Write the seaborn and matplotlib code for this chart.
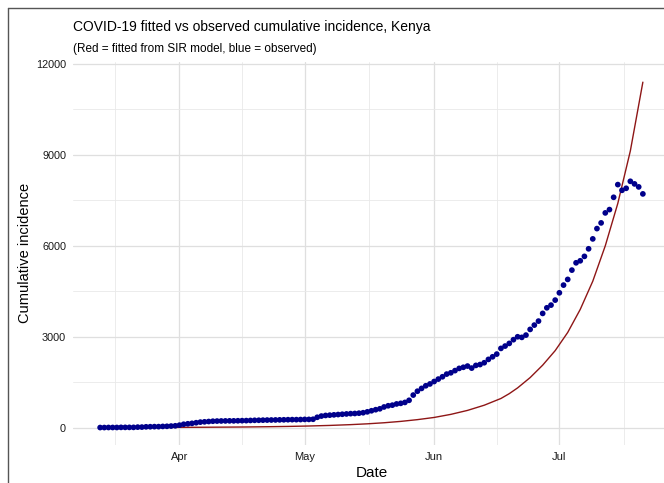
import matplotlib
matplotlib.use("Agg")
import matplotlib.pyplot as plt
import matplotlib.lines as mlines
import pandas as pd
import seaborn as sns

# observed cumulative incidence, one value per day from 13 Mar 2020
start = pd.Timestamp("2020-03-13")
observed = [
    1, 1, 3, 3, 3, 7, 7, 7, 7, 15, 16, 25, 28, 31, 31, 38, 42, 50, 59,
    80, 110, 125, 140, 160, 180, 190, 200, 210, 215, 218, 220, 222, 222, 225,
    228, 230, 235, 240, 242, 245, 248, 250, 252, 255, 257, 260, 262, 262, 265,
    270, 270, 275,
    340, 380, 400, 410, 420, 430, 440, 450, 460, 465, 475, 490, 520, 555, 590,
    620, 680, 720, 740, 780, 800, 830, 900, 1073, 1200, 1293, 1380, 1440, 1520,
    1600, 1677, 1765, 1808, 1880,
    1953, 1990, 2030, 1963, 2052, 2080, 2140, 2250, 2336, 2425, 2613, 2690,
    2778, 2900, 2997, 2977, 3052, 3240, 3382, 3514, 3768, 3953, 4042, 4207,
    4448, 4702, 4890, 5197, 5438, 5504, 5650, 5900, 6227, 6567, 6755, 7085,
    7194, 7600, 8019, 7831, 7897, 8128, 8042, 7943, 7712,
]

# SIR fitted curve, read at these day offsets from the start
fitted_day = [0, 5, 10, 15, 20, 25, 30, 35, 40, 45, 50, 55, 60,
              64, 68, 72, 76, 80, 84, 88, 92, 96, 98, 100, 103, 106, 109, 112,
              115, 118, 121, 124, 127, 130]
fitted = [1, 3, 4, 6, 8, 11, 15, 20, 28, 38, 52, 71, 97,
          124, 159, 204, 262, 334, 436, 567, 738, 960, 1120, 1310, 1650, 2060,
          2540, 3140, 3900, 4830, 6000, 7400, 9130, 11400]

month_ticks = ["2020-04-01", "2020-05-01", "2020-06-01", "2020-07-01"]
month_labels = ["Apr", "May", "Jun", "Jul"]
mid_month_ticks = ["2020-03-16 12:00", "2020-04-16 00:00", "2020-05-16 12:00",
                   "2020-06-16 00:00", "2020-07-16 12:00"]
y_ticks = [0, 3000, 6000, 9000, 12000]
y_minor = [1500, 4500, 7500, 10500]

obs_df = pd.DataFrame({
    "date": pd.date_range(start, periods=len(observed), freq="D"),
    "cases": observed,
})
fit_df = pd.DataFrame({
    "date": start + pd.to_timedelta(fitted_day, unit="D"),
    "cases": fitted,
})

sns.set_theme(style="white")
plt.rcParams["font.family"] = ["Liberation Sans", "DejaVu Sans"]

W, H = 664, 483
fig = plt.figure(figsize=(W / 100, H / 100), dpi=100)
ax = fig.add_axes([73 / W, 1 - 445 / H, 597 / W, (445 - 61.7) / H])

sns.lineplot(data=fit_df, x="date", y="cases", color="#8E1616",
             linewidth=1.0, ax=ax, zorder=2)
sns.scatterplot(data=obs_df, x="date", y="cases", color="#00008B", s=17,
                edgecolor="none", ax=ax, zorder=3)

span = obs_df["date"].iloc[-1] - obs_df["date"].iloc[0]
pad = span * 0.05
ax.set_xlim(obs_df["date"].iloc[0] - pad, obs_df["date"].iloc[-1] + pad)
ax.set_ylim(-575, 12075)

ax.set_xticks(pd.to_datetime(month_ticks))
ax.set_xticklabels(month_labels)
ax.set_xticks(pd.to_datetime(mid_month_ticks), minor=True)
ax.set_yticks(y_ticks)
ax.set_yticklabels([str(v) for v in y_ticks])
ax.set_yticks(y_minor, minor=True)

ax.grid(which="major", color="#DFDFDF", linewidth=0.9)
ax.grid(which="minor", color="#E9E9E9", linewidth=0.6)
ax.set_axisbelow(True)
for s in ax.spines.values():
    s.set_visible(False)
ax.tick_params(which="both", length=0)
ax.tick_params(axis="x", labelsize=8, pad=5, colors="#1A1A1A")
ax.tick_params(axis="y", labelsize=7.8, pad=5, colors="#1A1A1A")

ax.set_xlabel("Date", fontsize=11, labelpad=3, color="black")
ax.set_ylabel("Cumulative incidence", fontsize=10.5, labelpad=2.5, color="black")

fig.text(73 / W, 1 - 30.5 / H, "COVID-19 fitted vs observed cumulative incidence, Kenya",
         fontsize=10, ha="left", va="baseline", color="black")
fig.text(73 / W, 1 - 52 / H, "(Red = fitted from SIR model, blue = observed)",
         fontsize=8.5, ha="left", va="baseline", color="black")

# screenshot frame on the left and top
fig.add_artist(mlines.Line2D([8 / W, 8 / W], [0, 1 - 8 / H], color="#555555",
                             linewidth=1, transform=fig.transFigure))
fig.add_artist(mlines.Line2D([8 / W, 1], [1 - 8 / H, 1 - 8 / H], color="#555555",
                             linewidth=1, transform=fig.transFigure))

fig.savefig("out.png", dpi=100)
